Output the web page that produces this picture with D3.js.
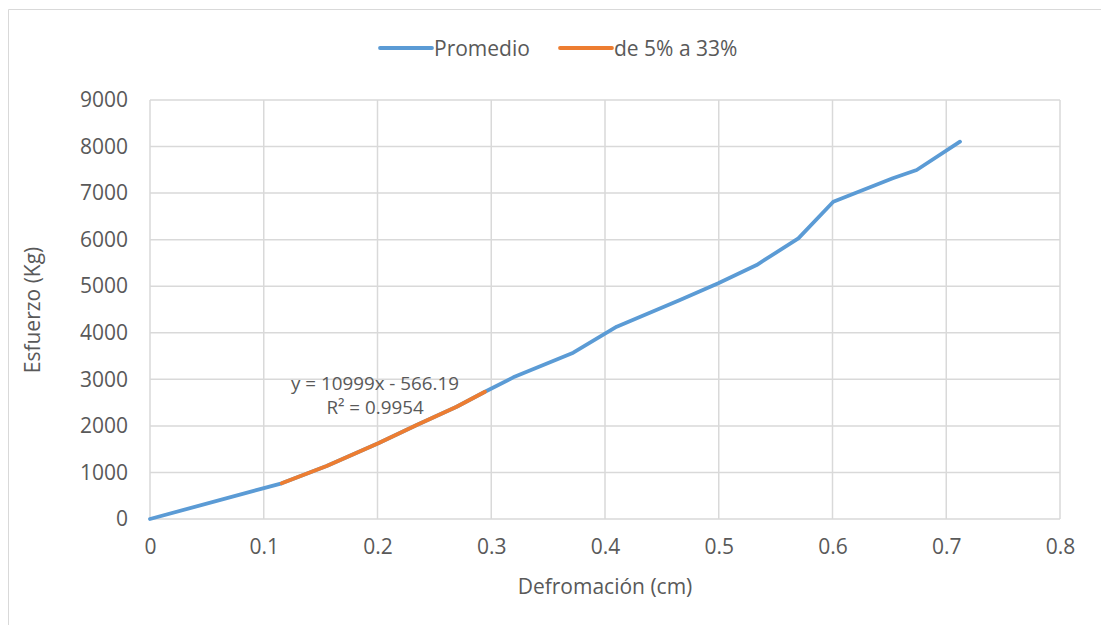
<!DOCTYPE html>
<html><head><meta charset="utf-8">
<script src="https://d3js.org/d3.v7.min.js"></script>
<style>body{margin:0;background:#fff}svg{display:block}text{font-family:"Open Sans",sans-serif;fill:#595959}</style>
</head><body><svg id="c" width="1101" height="625"></svg>
<script>
const promedioX = [0, 0.1158, 0.1553, 0.2007, 0.2345, 0.2696, 0.2945, 0.3194, 0.3721, 0.4103, 0.4659, 0.4996, 0.5333, 0.5700, 0.6007, 0.6530, 0.6740, 0.7121];
const promedioY = [0, 767, 1138, 1626, 2019, 2412, 2734, 3043, 3572, 4130, 4703, 5062, 5455, 6029, 6815, 7318, 7496, 8104];
const tramoX = [0.1158, 0.1553, 0.2007, 0.2345, 0.2696, 0.2945];
const tramoY = [767, 1138, 1626, 2019, 2412, 2734];
const xTicks = [0, 0.1, 0.2, 0.3, 0.4, 0.5, 0.6, 0.7, 0.8];
const yTicks = [0, 1000, 2000, 3000, 4000, 5000, 6000, 7000, 8000, 9000];
const seriesNames = ["Promedio", "de 5% a 33%"];
const colors = ["#5b9bd5", "#ed7d31"];
const trendText = ["y = 10999x - 566.19", "R\u00b2 = 0.9954"];
const xTitle = "Defromación (cm)", yTitle = "Esfuerzo (Kg)";

const svg = d3.select("#c");
const x = d3.scaleLinear().domain([0, 0.8]).range([150, 1060]);
const y = d3.scaleLinear().domain([0, 9000]).range([519, 100]);

svg.append("path").attr("d", "M8.5,625 V9.5 H1101").attr("fill", "none").attr("stroke", "#d9d9d9").attr("stroke-width", 1);

const g = svg.append("g");
g.selectAll(".hg").data(yTicks).join("line")
  .attr("x1", x(0)).attr("x2", x(0.8)).attr("y1", d => y(d)).attr("y2", d => y(d))
  .attr("stroke", "#d9d9d9").attr("stroke-width", 1.5);
g.selectAll(".vg").data(xTicks).join("line")
  .attr("y1", y(0)).attr("y2", y(9000)).attr("x1", d => x(d)).attr("x2", d => x(d))
  .attr("stroke", "#d9d9d9").attr("stroke-width", 1.5);

const xa = svg.append("g").attr("transform", `translate(0,${y(0)})`)
  .call(d3.axisBottom(x).tickValues(xTicks).tickFormat(d => String(+d.toFixed(1))).tickSize(0).tickPadding(20));
const ya = svg.append("g").attr("transform", `translate(${x(0)},0)`)
  .call(d3.axisLeft(y).tickValues(yTicks).tickFormat(d => String(d)).tickSize(0).tickPadding(22));
[xa, ya].forEach(a => { a.select(".domain").remove(); a.selectAll("text").attr("font-size", 21).attr("fill", "#595959").attr("font-family", "Open Sans"); });

const line = d3.line().x(d => x(d[0])).y(d => y(d[1]));
svg.append("path").datum(promedioX.map((v, i) => [v, promedioY[i]]))
  .attr("d", line).attr("fill", "none").attr("stroke", colors[0]).attr("stroke-width", 3.8).attr("stroke-linejoin", "round").attr("stroke-linecap", "round");
svg.append("path").datum(tramoX.map((v, i) => [v, tramoY[i]]))
  .attr("d", line).attr("fill", "none").attr("stroke", colors[1]).attr("stroke-width", 3.8).attr("stroke-linejoin", "round").attr("stroke-linecap", "round");

svg.append("text").attr("x", 375).attr("y", 390).attr("text-anchor", "middle").attr("font-size", 18.8).text(trendText[0]);
svg.append("text").attr("x", 375).attr("y", 414).attr("text-anchor", "middle").attr("font-size", 18.8).text(trendText[1]);

svg.append("text").attr("x", 605).attr("y", 594).attr("text-anchor", "middle").attr("font-size", 21).text(xTitle);
svg.append("text").attr("transform", "translate(40,310) rotate(-90)").attr("text-anchor", "middle").attr("font-size", 21).text(yTitle);

const legX = [380, 560];
seriesNames.forEach((n, i) => {
  svg.append("line").attr("x1", legX[i]).attr("x2", legX[i] + 52).attr("y1", 48).attr("y2", 48)
    .attr("stroke", colors[i]).attr("stroke-width", 3.8).attr("stroke-linecap", "round");
  svg.append("text").attr("x", legX[i] + 54).attr("y", 55.5).attr("font-size", 21).text(n);
});
</script></body></html>
